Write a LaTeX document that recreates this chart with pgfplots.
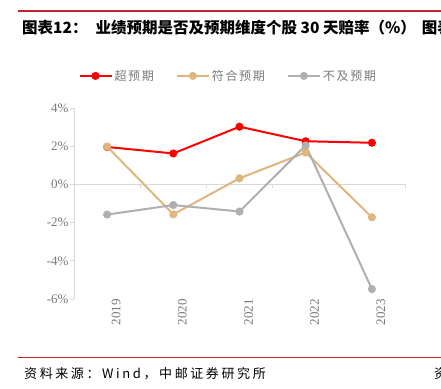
\documentclass[border=0pt]{standalone}
\usepackage{fontspec}
\usepackage{pgfplots}
\pgfplotsset{compat=1.18}
\setmainfont{Liberation Serif}
\newfontfamily\cjk{Noto Sans CJK SC}
\newfontfamily\cjksp[LetterSpace=14]{Noto Sans CJK SC}
\newfontfamily\cjksrc[LetterSpace=20]{Noto Sans CJK SC}
\definecolor{cRed}{RGB}{255,0,0}
\definecolor{cTan}{RGB}{222,182,126}
\definecolor{cGray}{RGB}{175,175,175}
\definecolor{cRule}{RGB}{192,36,40}
\definecolor{cAxis}{RGB}{217,217,217}
\definecolor{cText}{RGB}{120,120,120}
\begin{document}
\begin{tikzpicture}[x=1pt,y=1pt]
\useasboundingbox (0,0) rectangle (441,388);
% top rule and title
\draw[cRule, line width=1.5pt] (18,377) -- (441,377);
\node[anchor=west, inner sep=0pt, font=\cjk\bfseries\fontsize{15.5}{18}\selectfont] at (22,360) {图表12：\hspace{8pt}业绩预期是否及预期维度个股 30 天赔率（\%）\hspace{6pt}图表};
% bottom rule and source
\draw[cRule, line width=1pt] (18,31) -- (441,31);
\node[anchor=west, inner sep=0pt, font=\cjksrc\fontsize{13}{15}\selectfont] at (24,14) {资料来源：Wind，中邮证券研究所};
\node[anchor=west, inner sep=0pt, font=\cjksrc\fontsize{13}{15}\selectfont] at (434,14) {资料};
\begin{axis}[
  at={(74pt,89pt)}, anchor=south west,
  scale only axis, width=331pt, height=191pt,
  xmin=-0.5, xmax=4.5, ymin=-6, ymax=4,
  axis x line=none,
  axis y line*=left,
  y axis line style={cAxis, line width=1pt},
  ytick={-6,-4,-2,0,2,4},
  yticklabel={\pgfmathprintnumber{\tick}\%},
  /pgf/number format/assume math mode=true,
  ytick style={cAxis, line width=0.8pt},
  tick align=outside, major tick length=4pt,
  yticklabel style={font=\fontsize{13}{15}\selectfont, text=cText, xshift=2pt},
  xtick={0,1,2,3,4},
  xticklabels={},
  legend columns=3,
  legend style={draw=none, fill=none, at={(0.466,1.168)}, anchor=center,
    font=\cjksp\fontsize{12}{14}\selectfont, text=cText,
    /tikz/every even column/.append style={column sep=20pt}},
  legend image code/.code={\draw[#1, mark repeat=2, mark phase=2] plot coordinates {(0pt,0pt) (16pt,0pt) (32pt,0pt)};},
  clip=false,
]
\draw[cAxis, line width=1pt] (axis cs:-0.5,0) -- (axis cs:4.5,0);
\draw[cAxis, line width=0.8pt] (axis cs:-0.5,0) -- ([yshift=-4pt]axis cs:-0.5,0);
\draw[cAxis, line width=0.8pt] (axis cs:0.5,0) -- ([yshift=-4pt]axis cs:0.5,0);
\draw[cAxis, line width=0.8pt] (axis cs:1.5,0) -- ([yshift=-4pt]axis cs:1.5,0);
\draw[cAxis, line width=0.8pt] (axis cs:2.5,0) -- ([yshift=-4pt]axis cs:2.5,0);
\draw[cAxis, line width=0.8pt] (axis cs:3.5,0) -- ([yshift=-4pt]axis cs:3.5,0);
\draw[cAxis, line width=0.8pt] (axis cs:4.5,0) -- ([yshift=-4pt]axis cs:4.5,0);
\node[rotate=90, anchor=east, inner sep=0pt, text=cText, font=\fontsize{13}{15}\selectfont, yshift=-9pt] at (axis cs:0,-6) {2019};
\node[rotate=90, anchor=east, inner sep=0pt, text=cText, font=\fontsize{13}{15}\selectfont, yshift=-9pt] at (axis cs:1,-6) {2020};
\node[rotate=90, anchor=east, inner sep=0pt, text=cText, font=\fontsize{13}{15}\selectfont, yshift=-9pt] at (axis cs:2,-6) {2021};
\node[rotate=90, anchor=east, inner sep=0pt, text=cText, font=\fontsize{13}{15}\selectfont, yshift=-9pt] at (axis cs:3,-6) {2022};
\node[rotate=90, anchor=east, inner sep=0pt, text=cText, font=\fontsize{13}{15}\selectfont, yshift=-9pt] at (axis cs:4,-6) {2023};
\addplot[cRed, line width=2pt, mark=*, mark size=3pt, mark options={fill=cRed, draw=cRed}] coordinates {(0,1.96) (1,1.62) (2,3.02) (3,2.26) (4,2.18)};
\addlegendentry{超预期}
\addplot[cTan, line width=2pt, mark=*, mark size=3pt, mark options={fill=cTan, draw=cTan}] coordinates {(0,1.98) (1,-1.57) (2,0.32) (3,1.67) (4,-1.72)};
\addlegendentry{符合预期}
\addplot[cGray, line width=2pt, mark=*, mark size=3pt, mark options={fill=cGray, draw=cGray}] coordinates {(0,-1.58) (1,-1.08) (2,-1.42) (3,2.04) (4,-5.48)};
\addlegendentry{不及预期}
\end{axis}
\end{tikzpicture}
\end{document}
